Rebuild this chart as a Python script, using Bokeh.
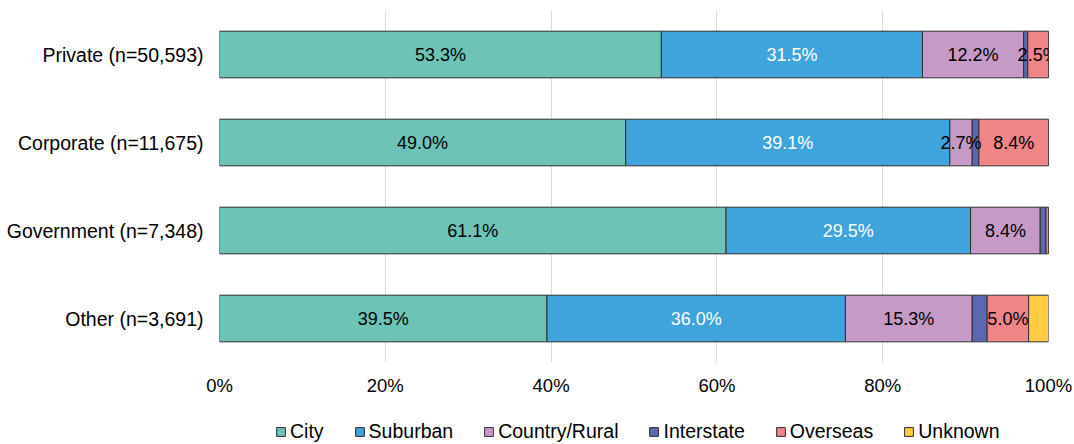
from bokeh.plotting import figure
from bokeh.layouts import column
from bokeh.models import ColumnDataSource, FactorRange, Range1d, Legend, LegendItem, FixedTicker, PrintfTickFormatter
from bokeh.core.properties import value
from bokeh.embed import file_html
from bokeh.resources import INLINE

categories = ["Private (n=50,593)", "Corporate (n=11,675)", "Government (n=7,348)", "Other (n=3,691)"]
series = ["City", "Suburban", "Country/Rural", "Interstate", "Overseas", "Unknown"]
city = [53.3, 49.0, 61.1, 39.5]
suburban = [31.5, 39.1, 29.5, 36.0]
country = [12.2, 2.7, 8.4, 15.3]
interstate = [0.5, 0.8, 0.7, 1.8]
overseas = [2.5, 8.4, 0.3, 5.0]
unknown = [0.0, 0.0, 0.0, 2.4]
colors = ["#6CC3B6", "#3FA3DC", "#C69AC7", "#5B67B0", "#F08587", "#FFCC44"]
label_colors = ["#000000", "#FFFFFF", "#000000", "#000000", "#000000", "#000000"]
ticks = [0, 20, 40, 60, 80, 100]

FONT = "Liberation Sans"
EDGE = "#2e2e2e"

data = {"cat": categories}
for name, vals in zip(series, [city, suburban, country, interstate, overseas, unknown]):
    data[name] = vals
source = ColumnDataSource(data)

p = figure(frame_width=829, frame_height=352, output_backend="svg", toolbar_location=None,
           y_range=FactorRange(factors=list(reversed(categories))),
           x_range=Range1d(0, 100),
           min_border_left=219, min_border_right=26, min_border_top=10, min_border_bottom=40)
p.outline_line_color = None

renderers = p.hbar_stack(series, y="cat", height=0.53, color=colors, source=source,
                         line_color=EDGE, line_width=1)

# value labels
lx, ly, lt, lc = [], [], [], []
for i, cat in enumerate(categories):
    left = 0.0
    for s, col in zip(series, label_colors):
        v = data[s][i]
        if v >= 2.5:
            lx.append(left + v / 2)
            ly.append(cat)
            lt.append(f"{v:.1f}%")
            lc.append(col)
        left += v
lsrc = ColumnDataSource(dict(x=lx, y=ly, t=lt, c=lc))
p.text(x="x", y="y", text="t", text_color="c", source=lsrc, text_align="center",
       text_baseline="middle", text_font=value(FONT), text_font_size="18px")

p.xaxis.ticker = FixedTicker(ticks=ticks)
p.xaxis.formatter = PrintfTickFormatter(format="%d%%")
p.xaxis.axis_line_color = None
p.xaxis.major_tick_line_color = None
p.xaxis.minor_tick_line_color = None
p.xaxis.major_tick_out = 0
p.xaxis.major_tick_in = 0
p.xaxis.major_label_standoff = 12
p.xaxis.major_label_text_font = FONT
p.xaxis.major_label_text_font_size = "18.5px"
p.xaxis.major_label_text_color = "#000000"

p.yaxis.axis_line_color = None
p.yaxis.major_tick_line_color = None
p.yaxis.minor_tick_line_color = None
p.yaxis.major_tick_out = 0
p.yaxis.major_tick_in = 0
p.yaxis.major_label_standoff = 16
p.yaxis.major_label_text_font = FONT
p.yaxis.major_label_text_font_size = "19.5px"
p.yaxis.major_label_text_color = "#000000"

p.xgrid.grid_line_color = "#D9D9D9"
p.xgrid.ticker = FixedTicker(ticks=ticks)
p.ygrid.grid_line_color = None

# legend strip: hidden copies of the stacked bars, only their legend is shown
lg = figure(frame_width=829, frame_height=42, output_backend="svg", toolbar_location=None,
            y_range=FactorRange(factors=list(reversed(categories))),
            x_range=Range1d(0, 100), x_axis_type=None, y_axis_type=None,
            min_border_left=219, min_border_right=26, min_border_top=0, min_border_bottom=0)
lg.outline_line_color = None
lg_renderers = lg.hbar_stack(series, y="cat", height=0.53, color=colors, source=source,
                             line_color=EDGE, line_width=1)
for r in lg_renderers:
    r.visible = False

legend = Legend(items=[LegendItem(label=s, renderers=[r]) for s, r in zip(series, lg_renderers)],
                orientation="horizontal", location=(56, 1),
                label_text_font=FONT, label_text_font_size="19.5px", label_text_color="#000000",
                glyph_width=11, glyph_height=11, label_standoff=4, spacing=30,
                border_line_color=None, background_fill_alpha=0, padding=0, margin=0,
                inactive_fill_alpha=0)
lg.add_layout(legend, "center")

layout = column(p, lg, spacing=0)
open("out.html", "w").write(file_html(layout, INLINE))
